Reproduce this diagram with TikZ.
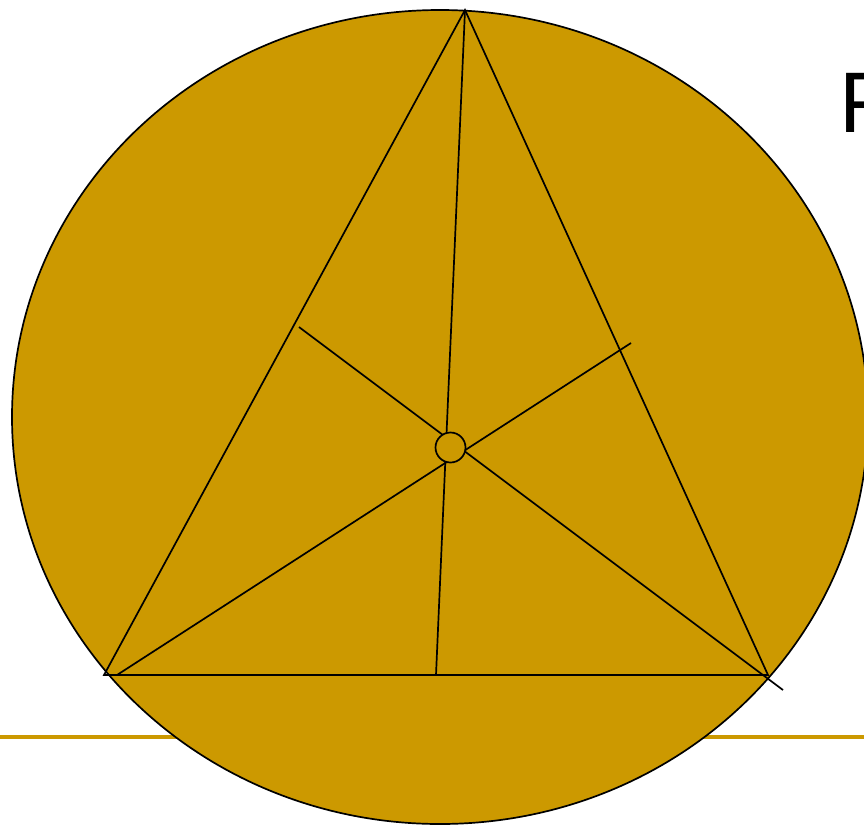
\documentclass[tikz,border=0pt]{standalone}
\usepackage{fontspec}
\setmainfont{Liberation Sans}
\definecolor{gold}{RGB}{204,153,0}
\tikzset{
  edge/.style={black, line width=1.7pt},
  disc/.style={fill=gold, draw=black, line width=1.7pt}
}
\begin{document}
\begin{tikzpicture}[x=1pt, y=-1pt]
  \useasboundingbox (0, 0) rectangle (864, 825);
  \clip (0, 0) rectangle (864, 825);

  % Rule behind the disc
  \draw[gold, line width=4pt] (0, 737) -- (864, 737);

  % Disc
  \draw[disc] (440, 417) ellipse [x radius=428, y radius=407];

  % Title letter
  \node[anchor=base west, inner sep=0pt, font=\fontsize{86}{90}\selectfont] (title) at (839, 132) {F};

  % Triangle
  \coordinate (A) at (465, 10);
  \coordinate (B) at (104, 675);
  \coordinate (C) at (768, 675);
  \draw[edge] (A) -- (B) -- (C) -- cycle;

  % Cevians
  \coordinate (footA) at (436, 675);
  \coordinate (footB) at (631, 343);
  \coordinate (footC) at (299, 327);
  \coordinate (startB) at (117, 675);
  \coordinate (endC) at (783, 690);
  \draw[edge] (A) -- (footA);
  \draw[edge] (startB) -- (footB);
  \draw[edge] (footC) -- (endC);

  % Meeting point
  \node[disc, circle, minimum size=30pt, inner sep=0pt] (meet) at (450.5, 447.5) {};
\end{tikzpicture}
\end{document}
